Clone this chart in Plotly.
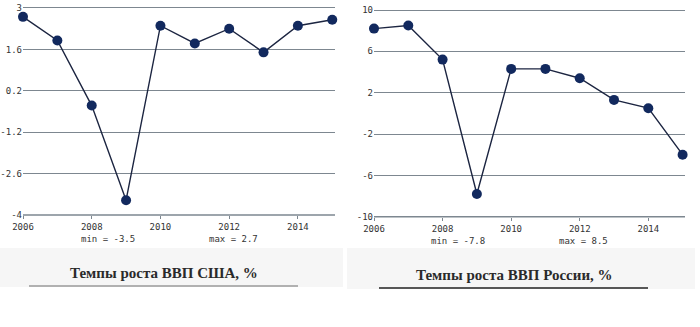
import plotly.graph_objects as go

years = [2006, 2007, 2008, 2009, 2010, 2011, 2012, 2013, 2014, 2015]
us_growth = [2.7, 1.9, -0.3, -3.5, 2.4, 1.8, 2.3, 1.5, 2.4, 2.6]
ru_growth = [8.2, 8.5, 5.2, -7.8, 4.3, 4.3, 3.4, 1.3, 0.5, -4.0]
x_ticks = [2006, 2008, 2010, 2012, 2014]
us_yticks = [-4, -2.6, -1.2, 0.2, 1.6, 3]
ru_yticks = [-10, -6, -2, 2, 6, 10]
titles = ["Темпы роста ВВП США, %", "Темпы роста ВВП России, %"]

W, H = 700, 327
def px(v):
    return v / W
def py(v):
    return 1 - v / H

fig = go.Figure()
line_col = "#1c2541"
mark_col = "#12295e"
grid_col = "#7d8790"
mono = "DejaVu Sans Mono"
tick_font = dict(family=mono, size=9, color="#333")

fig.add_trace(go.Scatter(x=years, y=us_growth, mode="lines+markers", xaxis="x", yaxis="y",
                         line=dict(color=line_col, width=1.4), cliponaxis=False,
                         marker=dict(color=mark_col, size=10), showlegend=False))
fig.add_trace(go.Scatter(x=years, y=ru_growth, mode="lines+markers", xaxis="x2", yaxis="y2",
                         line=dict(color=line_col, width=1.4), cliponaxis=False,
                         marker=dict(color=mark_col, size=10), showlegend=False))

def fmt(v):
    return "%g" % v

xcommon = dict(tickvals=x_ticks, ticktext=[str(t) for t in x_ticks], showgrid=False,
               zeroline=False, showline=False, ticks="outside", ticklen=3, tickcolor=grid_col,
               tickfont=tick_font, automargin=False)
ycommon = dict(showgrid=True, gridcolor=grid_col, gridwidth=1.2, zeroline=False, showline=False,
               ticks="", tickfont=tick_font, automargin=False)

fig.update_layout(
    width=W, height=H, margin=dict(l=0, r=0, t=0, b=0, autoexpand=False),
    paper_bgcolor="white", plot_bgcolor="white",
    xaxis=dict(domain=[px(23), px(335)], range=[2006, 2015.08], anchor="y", **xcommon),
    yaxis=dict(domain=[py(215), py(6.5)], range=[-4, 3.05], anchor="x",
               tickvals=us_yticks, ticktext=[fmt(v) for v in us_yticks], **ycommon),
    xaxis2=dict(domain=[px(374), px(685)], range=[2006, 2015.07], anchor="y2", **xcommon),
    yaxis2=dict(domain=[py(216.7), py(8.45)], range=[-10, 10.15], anchor="x2",
                tickvals=ru_yticks, ticktext=[fmt(v) for v in ru_yticks], **ycommon),
)

shapes = [
    dict(type="rect", xref="paper", yref="paper", x0=px(0), x1=px(343), y0=py(287), y1=py(248),
         fillcolor="#f6f6f6", line=dict(width=0), layer="below"),
    dict(type="rect", xref="paper", yref="paper", x0=px(347), x1=px(695), y0=py(289), y1=py(248),
         fillcolor="#f6f6f6", line=dict(width=0), layer="below"),
    dict(type="line", xref="paper", yref="paper", x0=px(29), x1=px(298), y0=py(286), y1=py(286),
         line=dict(color="#9a9a9a", width=1.5)),
    dict(type="line", xref="paper", yref="paper", x0=px(379), x1=px(648), y0=py(288), y1=py(288),
         line=dict(color="#222", width=1.5)),
    dict(type="line", xref="paper", yref="paper", x0=px(23), x1=px(335), y0=py(215), y1=py(215),
         line=dict(color=grid_col, width=1.4), layer="above"),
    dict(type="line", xref="paper", yref="paper", x0=px(374), x1=px(685), y0=py(216.7), y1=py(216.7),
         line=dict(color=grid_col, width=1.4), layer="above"),
]

ann_font = dict(family=mono, size=9, color="#333")
annotations = [
    dict(x=2008.47, y=py(239), xref="x", yref="paper", text="min = %s" % fmt(min(us_growth)),
         showarrow=False, xanchor="center", yanchor="middle", font=ann_font),
    dict(x=2012.14, y=py(239), xref="x", yref="paper", text="max = %s" % fmt(max(us_growth)),
         showarrow=False, xanchor="center", yanchor="middle", font=ann_font),
    dict(x=2008.45, y=py(241), xref="x2", yref="paper", text="min = %s" % fmt(min(ru_growth)),
         showarrow=False, xanchor="center", yanchor="middle", font=ann_font),
    dict(x=2012.12, y=py(241), xref="x2", yref="paper", text="max = %s" % fmt(max(ru_growth)),
         showarrow=False, xanchor="center", yanchor="middle", font=ann_font),
    dict(x=px(164), y=py(273), xref="paper", yref="paper", text="<b>%s</b>" % titles[0],
         showarrow=False, xanchor="center", yanchor="middle",
         font=dict(family="Liberation Serif", size=15, color="#2a2a2a")),
    dict(x=px(514), y=py(275), xref="paper", yref="paper", text="<b>%s</b>" % titles[1],
         showarrow=False, xanchor="center", yanchor="middle",
         font=dict(family="Liberation Serif", size=15, color="#2a2a2a")),
]
fig.update_layout(shapes=shapes, annotations=annotations)

fig.write_html("out.html")
